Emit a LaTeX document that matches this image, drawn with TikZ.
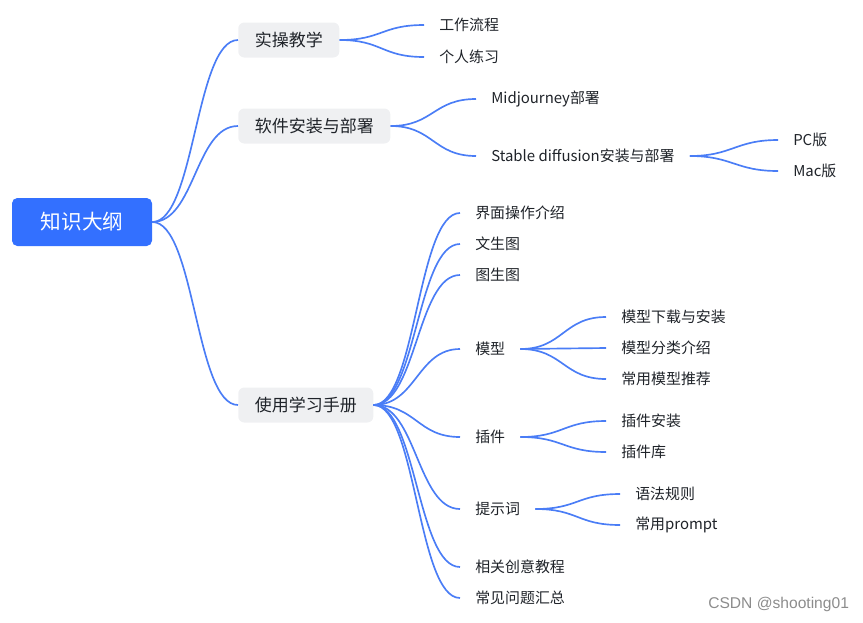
\documentclass[tikz,border=0pt]{standalone}
\usepackage{fontspec}
\setmainfont{Noto Sans CJK SC}
\newfontfamily\wmfont{Liberation Sans}
\definecolor{rootblue}{HTML}{3370FF}
\definecolor{linkblue}{HTML}{4A7DF6}
\definecolor{boxgray}{HTML}{EFF0F2}
\definecolor{txt}{HTML}{1F2329}

\begin{document}
\begin{tikzpicture}[
    x = 0.75pt, y = -0.75pt,
    root/.style = { fill = rootblue, rounded corners = 4pt, text = white,
      minimum width = 105pt, minimum height = 36pt,
      font = \fontsize{15.5}{18}\selectfont },
    topic/.style = { anchor = west, fill = boxgray, rounded corners = 4.5pt,
      text = txt, inner xsep = 12.4pt, minimum height = 26.25pt,
      font = \fontsize{12.75}{15}\selectfont },
    leaf/.style = { anchor = west, text = txt, inner xsep = 11.25pt,
      inner ysep = 2pt, yshift = -0.75pt, font = \fontsize{11.2}{13}\selectfont },
    branch/.style = { draw = linkblue, line width = 1.25pt,
      to path = {.. controls ([xshift=32pt]\tikztostart)
        and ([xshift=-32pt]\tikztotarget) .. (\tikztotarget)} }
    ]
  \useasboundingbox (0,0) rectangle (863,622);
  \node (root) [root] at (82,222) {知识大纲};
  \node (shicao) [topic] at (238,40) {实操教学};
  \node (ruanjian) [topic] at (238,126) {软件安装与部署};
  \node (shiyong) [topic] at (238,405) {使用学习手册};
  \node (gongzuo) [leaf] at (424,24) {工作流程};
  \node (lianxi) [leaf] at (424,56) {个人练习};
  \node (midj) [leaf] at (476,98) {Midjourney部署};
  \node (stable) [leaf] at (476,155) {Stable diffusion安装与部署};
  \node (pc) [leaf] at (778,139) {PC版};
  \node (mac) [leaf] at (778,170) {Mac版};
  \node (jiemian) [leaf] at (460,212) {界面操作介绍};
  \node (wensheng) [leaf] at (460,243) {文生图};
  \node (tusheng) [leaf] at (460,274) {图生图};
  \node (moxing) [leaf] at (460,348) {模型};
  \node (chajian) [leaf] at (460,436) {插件};
  \node (tishi) [leaf] at (460,508) {提示词};
  \node (chuangyi) [leaf] at (460,566) {相关创意教程};
  \node (wenti) [leaf] at (460,597) {常见问题汇总};
  \node (xiazai) [leaf] at (606,316) {模型下载与安装};
  \node (fenlei) [leaf] at (606,347) {模型分类介绍};
  \node (tuijian) [leaf] at (606,378) {常用模型推荐};
  \node (anzhuang) [leaf] at (606,420) {插件安装};
  \node (chajianku) [leaf] at (606,451) {插件库};
  \node (yufa) [leaf] at (620,493) {语法规则};
  \node (prompt) [leaf] at (620,524) {常用prompt};
  \node (wm) [anchor = west, inner sep = 0pt, text = black!45,
    font = \wmfont\fontsize{11.7}{13}\selectfont] at (708,604) {CSDN @shooting01};
\draw [branch] (root.east) to (shicao.west);
\draw [branch] (root.east) to (ruanjian.west);
\draw [branch] (root.east) to (shiyong.west);
\draw [branch] (shicao.east) to (gongzuo.west);
\draw [branch] (shicao.east) to (lianxi.west);
\draw [branch] (ruanjian.east) to (midj.west);
\draw [branch] (ruanjian.east) to (stable.west);
\draw [branch] (stable.east) to (pc.west);
\draw [branch] (stable.east) to (mac.west);
\draw [branch] (shiyong.east) to (jiemian.west);
\draw [branch] (shiyong.east) to (wensheng.west);
\draw [branch] (shiyong.east) to (tusheng.west);
\draw [branch] (shiyong.east) to (moxing.west);
\draw [branch] (shiyong.east) to (chajian.west);
\draw [branch] (shiyong.east) to (tishi.west);
\draw [branch] (shiyong.east) to (chuangyi.west);
\draw [branch] (shiyong.east) to (wenti.west);
\draw [branch] (moxing.east) to (xiazai.west);
\draw [branch] (moxing.east) to (fenlei.west);
\draw [branch] (moxing.east) to (tuijian.west);
\draw [branch] (chajian.east) to (anzhuang.west);
\draw [branch] (chajian.east) to (chajianku.west);
\draw [branch] (tishi.east) to (yufa.west);
\draw [branch] (tishi.east) to (prompt.west);
  \end{tikzpicture}
\end{document}
